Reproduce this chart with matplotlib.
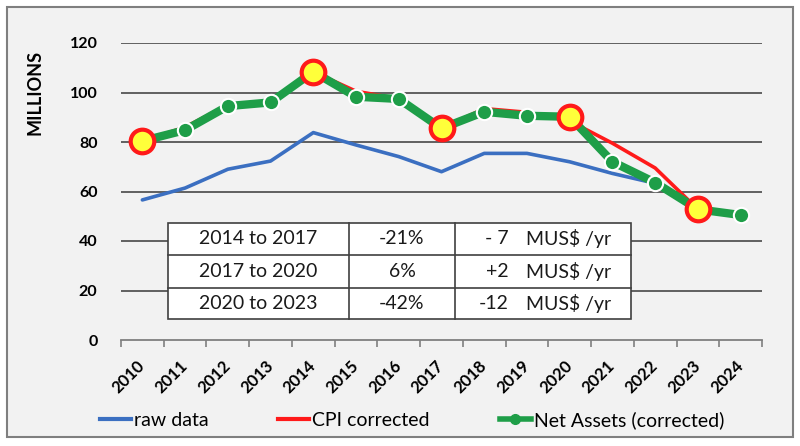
import matplotlib
matplotlib.use("Agg")
import matplotlib.pyplot as plt
from matplotlib.patches import Rectangle
from matplotlib.lines import Line2D

# ---------------- data ----------------
years = [str(y) for y in range(2010, 2025)]
raw_data = [56.6, 61.4, 69.0, 72.3, 83.8, 78.8, 74.1, 68.0, 75.4, 75.4, 72.0, 67.3, 63.3, 53.3, 49.8]
cpi_corrected = [80.4, 86.0, 95.0, 96.3, 108.4, 100.5, 97.5, 85.5, 93.5, 92.0, 88.5, 79.5, 69.5, 52.8, 50.0]
net_assets = [80.4, 84.8, 94.5, 96.0, 108.4, 98.3, 97.4, 85.5, 92.2, 90.6, 90.2, 72.0, 63.6, 52.8, 50.5]
highlight_years = ['2010', '2014', '2017', '2020', '2023']
y_ticks = [0, 20, 40, 60, 80, 100, 120]
series_names = ['raw data', 'CPI corrected', 'Net Assets (corrected)']
table_periods = ['2014 to 2017', '2017 to 2020', '2020 to 2023']
table_pct = ['-21%', '6%', '-42%']
table_rate = ['- 7', '+2', '-12']
table_unit = 'MUS$ /yr'
y_label = 'MILLIONS'

# ---------------- style ----------------
W, H = 800, 446
FONT = ['Lato', 'DejaVu Sans']
plt.rcParams['font.family'] = FONT
BLUE = '#3b6fc1'
RED = '#ff1a1a'
GREEN = '#1e9e48'
YELLOW = '#ffff3a'
GRID = '#3a3a3a'

def fx(px):
    return px / W

def fy(py):
    return 1 - py / H

fig = plt.figure(figsize=(W / 100, H / 100), dpi=100)
fig.patch.set_facecolor('white')

# outer chart border
fig.add_artist(Rectangle((fx(7), fy(437)), (793 - 7) / W, (437 - 7) / H,
                         transform=fig.transFigure, facecolor='#f2f2f2',
                         edgecolor='#7f7f7f', lw=1.5, zorder=-10))

ax = fig.add_axes([fx(121), fy(340), (762 - 121) / W, (340 - 43) / H])
ax.set_facecolor('none')

x = list(range(len(years)))
ax.plot(x, raw_data, color=BLUE, lw=2.6, solid_capstyle='round', zorder=3)
ax.plot(x, cpi_corrected, color=RED, lw=2.6, solid_capstyle='round', zorder=4)
ax.plot(x, net_assets, color=GREEN, lw=6.0, marker='o', ms=11,
        markerfacecolor=GREEN, markeredgecolor='white', markeredgewidth=1.5,
        solid_capstyle='round', zorder=5)
hx = [years.index(y) for y in highlight_years]
hy = [net_assets[i] for i in hx]
ax.plot(hx, hy, ls='none', marker='o', ms=17, markerfacecolor=YELLOW,
        markeredgecolor=RED, markeredgewidth=3, zorder=6)

ax.set_xlim(-0.5, len(years) - 0.5)
ax.set_ylim(0, 120)
ax.set_yticks(y_ticks)
ax.set_yticklabels([str(v) for v in y_ticks], fontsize=11.5, fontweight='bold')
ax.tick_params(axis='y', length=0, pad=17)
for v in y_ticks[1:]:
    ax.axhline(v, color=GRID, lw=1.1, zorder=1)

ax.set_xticks(x)
ax.set_xticklabels(years, fontsize=12, fontweight='bold', rotation=45,
                   ha='right', va='center', rotation_mode='anchor')
ax.tick_params(axis='x', which='major', length=0, pad=17)
ax.set_xticks([i - 0.5 for i in range(len(years) + 1)], minor=True)
ax.tick_params(axis='x', which='minor', length=5, width=1.2, color='#7f7f7f')

for s in ['top', 'right', 'left']:
    ax.spines[s].set_visible(False)
ax.spines['bottom'].set_color('#7f7f7f')
ax.spines['bottom'].set_linewidth(1.3)

fig.text(fx(35), fy(92), y_label, rotation=90, fontsize=13, fontweight='bold',
         ha='center', va='center')

# ---------------- table ----------------
rows_y = [223, 255, 288, 319]
cols_x = [168, 349, 455, 631]
fig.add_artist(Rectangle((fx(cols_x[0]), fy(rows_y[-1])), (cols_x[-1] - cols_x[0]) / W,
                         (rows_y[-1] - rows_y[0]) / H, transform=fig.transFigure,
                         facecolor='white', edgecolor='#404040', lw=1.2, zorder=2))
for yy in rows_y[1:-1]:
    fig.add_artist(Line2D([fx(cols_x[0]), fx(cols_x[-1])], [fy(yy), fy(yy)],
                          transform=fig.transFigure, color='#404040', lw=1.2, zorder=3))
for xx in cols_x[1:-1]:
    fig.add_artist(Line2D([fx(xx), fx(xx)], [fy(rows_y[0]), fy(rows_y[-1])],
                          transform=fig.transFigure, color='#404040', lw=1.2, zorder=3))
for r in range(3):
    cy = fy((rows_y[r] + rows_y[r + 1]) / 2)
    fig.text(fx((cols_x[0] + cols_x[1]) / 2), cy, table_periods[r], fontsize=14,
             ha='center', va='center', zorder=4, color='#1a1a1a')
    fig.text(fx((cols_x[1] + cols_x[2]) / 2), cy, table_pct[r], fontsize=14,
             ha='center', va='center', zorder=4, color='#1a1a1a')
    fig.text(fx(509), cy, table_rate[r], fontsize=14,
             ha='right', va='center', zorder=4, color='#1a1a1a')
    fig.text(fx(526), cy, table_unit, fontsize=14,
             ha='left', va='center', zorder=4, color='#1a1a1a')

# ---------------- legend ----------------
handles = [
    Line2D([], [], color=BLUE, lw=3),
    Line2D([], [], color=RED, lw=3),
    Line2D([], [], color=GREEN, lw=4, marker='o', ms=7,
           markerfacecolor=GREEN, markeredgecolor=GREEN),
]
leg = fig.legend(handles, series_names, loc='center', ncol=3,
                 bbox_to_anchor=(fx(412), fy(420)), frameon=False,
                 fontsize=14, handlelength=1.6, handletextpad=0.15,
                 columnspacing=3.6)

fig.savefig('out.png', dpi=100, facecolor='white')
